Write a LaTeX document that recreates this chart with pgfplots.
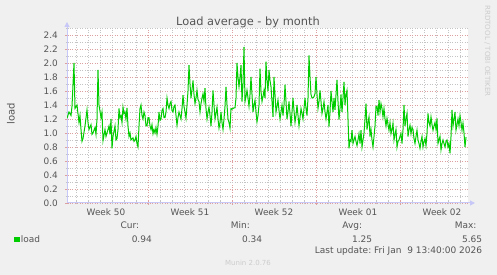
\documentclass[border=0pt]{standalone}
\usepackage{pgfplots}
\usepackage{pgfplotstable}
\pgfplotsset{compat=1.18}
\usepackage{fontspec}
\setmainfont{DejaVu Sans}
\usetikzlibrary{arrows.meta}
\definecolor{bg}{HTML}{F0F0F0}
\definecolor{txt}{HTML}{555555}
\definecolor{axc}{HTML}{C8C8F8}
\definecolor{mingrid}{HTML}{C4C4C4}
\definecolor{majgrid}{HTML}{DCA0A0}
\definecolor{loadc}{HTML}{00CC00}
\definecolor{light}{HTML}{CCCCCC}

\pgfplotstableread{
x y
0 1.21
2 1.30
4 1.25
5 1.38
7 2.00
8 1.35
10 1.40
12 1.15
13 1.25
14 1.05
15 0.88
16 0.92
18 1.10
20 1.33
21 1.15
22 1.05
24 1.12
25 0.98
26 1.00
28 1.08
29 0.98
30 1.20
31 1.90
32 1.40
34 1.22
35 1.30
36 0.89
38 1.05
39 0.95
40 1.00
42 1.10
43 0.98
44 1.20
45 0.78
46 0.95
48 1.10
49 0.90
50 0.92
51 1.05
52 1.35
53 1.22
54 1.25
55 1.15
56 1.37
57 1.28
58 1.30
59 1.20
60 1.36
61 1.10
62 0.95
63 1.00
64 0.90
66 0.93
67 0.88
68 0.90
69 0.95
70 0.85
71 0.80
72 1.10
73 1.35
74 1.40
75 1.25
76 1.20
77 1.30
78 1.25
79 1.10
80 1.10
81 1.22
82 1.22
83 1.10
84 1.05
85 1.12
86 0.99
87 1.05
88 1.00
89 1.08
90 0.98
91 1.10
92 1.30
93 1.18
94 1.20
95 1.32
96 1.35
97 1.22
98 1.22
99 1.30
100 1.50
101 1.40
102 1.35
103 1.42
104 1.45
105 1.32
106 1.30
107 1.38
108 1.40
109 1.25
110 1.11
111 1.22
112 1.30
113 1.25
114 1.20
115 1.35
116 1.54
117 1.38
118 1.30
119 1.21
120 1.40
121 1.60
122 1.97
123 1.70
124 1.50
125 1.62
126 1.75
127 1.55
128 1.42
129 1.50
130 1.61
131 1.48
132 1.45
133 1.30
134 1.42
135 1.50
136 1.56
137 1.45
138 1.64
139 1.35
140 1.20
141 1.30
142 1.37
143 1.25
144 1.10
145 1.30
146 1.61
147 1.40
148 1.20
149 1.28
150 1.37
151 1.20
152 1.07
153 1.15
154 1.30
155 1.15
156 1.05
157 1.20
158 1.38
159 1.66
160 1.40
161 1.20
162 1.15
163 1.07
164 1.35
165 1.34
166 1.35
167 1.36
168 1.36
169 1.50
170 2.00
171 1.80
172 1.66
173 1.80
174 1.97
175 1.45
176 1.70
177 2.23
178 1.45
179 1.52
180 1.61
181 1.50
182 1.38
183 1.55
184 1.80
185 1.55
186 1.30
187 1.40
188 1.47
189 1.30
190 1.16
191 1.25
192 1.40
193 1.92
194 1.60
195 1.45
196 1.52
197 1.61
198 1.50
199 2.02
200 1.75
201 1.60
202 1.90
203 1.75
204 1.66
205 1.45
206 1.23
207 1.80
208 1.55
209 1.30
210 1.38
211 1.47
212 1.32
213 1.20
214 1.30
215 1.40
216 1.25
217 1.40
218 1.69
219 1.45
220 1.20
221 1.30
222 1.45
223 1.28
224 1.10
225 1.30
226 1.50
227 1.32
228 1.15
229 1.25
230 1.40
231 1.25
232 1.10
233 1.22
234 1.35
235 1.28
236 1.20
237 1.35
238 1.50
239 1.35
240 1.25
241 1.50
242 2.11
243 1.80
244 1.55
245 1.50
246 1.50
247 1.52
248 1.56
249 1.80
250 1.55
251 1.35
252 1.45
253 1.61
254 1.45
255 1.28
256 1.35
257 1.45
258 1.30
259 1.20
260 1.30
261 1.40
262 1.09
263 1.30
264 1.60
265 1.45
266 1.30
267 1.50
268 1.33
269 1.55
270 1.76
271 1.45
272 1.19
273 1.35
274 1.55
275 1.30
276 1.50
277 1.73
278 1.40
279 1.55
280 1.61
281 1.20
282 0.78
283 0.90
284 0.88
285 1.04
286 0.85
287 0.90
288 0.95
289 0.88
290 0.82
291 0.90
292 0.99
293 0.85
294 1.04
295 0.80
296 0.90
297 1.00
298 1.20
299 1.42
300 1.05
301 1.15
302 1.23
303 0.95
304 1.05
305 0.90
306 0.80
307 0.95
308 1.10
309 1.38
310 1.38
311 1.25
312 1.47
313 1.30
314 1.42
315 1.35
316 1.23
317 1.35
318 1.20
319 1.10
320 1.21
321 1.12
322 1.04
323 1.15
324 0.99
325 1.05
326 1.14
327 0.90
328 0.98
329 1.05
330 0.80
331 0.88
332 0.90
333 0.95
334 0.99
335 0.85
336 1.05
337 1.40
338 1.10
339 1.20
340 1.28
341 0.95
342 1.05
343 1.11
344 0.99
345 1.08
346 1.05
347 0.92
348 0.85
349 0.95
350 1.04
351 0.90
352 0.85
353 0.78
354 0.88
355 0.95
356 0.80
357 0.88
358 0.92
359 0.82
360 1.00
361 1.28
362 1.15
363 1.10
364 1.23
365 1.12
366 1.04
367 1.10
368 1.15
369 1.05
370 1.21
371 0.85
372 0.90
373 0.95
374 0.76
375 0.85
376 0.90
377 0.85
378 0.80
379 0.88
380 0.90
381 0.80
382 0.85
383 0.71
384 0.95
385 1.33
386 1.10
387 1.20
388 1.30
389 1.04
390 1.12
391 1.20
392 1.10
393 1.25
394 1.15
395 1.04
396 1.14
397 1.00
398 0.80
399 0.94
}\loaddata

\begin{document}
\begin{tikzpicture}[x=1pt,y=1pt]
\fill[bg] (0,0) rectangle (497,275);
\useasboundingbox (0,0) rectangle (497,275);
\begin{axis}[
  at={(67pt,72pt)}, anchor=south west,
  scale only axis, width=401pt, height=175pt,
  xmin=0, xmax=401, ymin=0, ymax=2.5,
  axis background/.style={fill=white},
  axis x line=bottom, axis y line=left,
  axis line style={axc, line width=1pt},
  x axis line style={-{Triangle[length=5pt,width=5pt]}, shorten >=-7pt},
  y axis line style={-{Triangle[length=5pt,width=5pt]}, shorten >=-6pt},
  xtick={81,165,249,333}, xticklabels={},
  minor xtick={9,21,33,45,57,69,93,105,117,129,141,153,177,189,201,213,225,237,261,273,285,297,309,321,345,357,369,381,393},
  extra x ticks={39,123,207,291,375},
  extra x tick labels={Week 50,Week 51,Week 52,Week 01,Week 02},
  extra x tick style={grid=none, major tick length=0pt},
  ytick={0,0.2,0.4,0.6,0.8,1.0,1.2,1.4,1.6,1.8,2.0,2.2,2.4},
  minor ytick={0.1,0.3,0.5,0.7,0.9,1.1,1.3,1.5,1.7,1.9,2.1,2.3,2.5},
  grid=both,
  major grid style={majgrid, line width=0.7pt, dash pattern=on 0.9pt off 1.6pt},
  minor grid style={mingrid, line width=0.7pt, dash pattern=on 0.9pt off 1.6pt},
  tick align=center,
  major tick length=4pt, minor tick length=3pt,
  every major tick/.append style={majgrid, line width=0.8pt},
  every minor tick/.append style={mingrid, line width=0.8pt},
  tick label style={txt, font=\fontsize{8.9}{10}\selectfont, inner sep=0pt},
  xticklabel style={anchor=base, yshift=-13pt},
  yticklabel style={anchor=base east, xshift=-7pt, yshift=-3.2pt,
    /pgf/number format/.cd, fixed, fixed zerofill, precision=1, assume math mode=true},
]
\addplot[loadc, line width=1pt, no marks] table[x=x, y=y] {\loaddata};
\end{axis}
\node[txt, font=\fontsize{11.4}{13}\selectfont, anchor=base, inner sep=0pt] at (248,249.1) {Load average - by month};
\node[txt, font=\fontsize{10}{12}\selectfont, rotate=90, inner sep=0pt] at (11,161) {load};
\node[light, font=\fontsize{7.1}{8}\selectfont, rotate=-90, inner sep=0pt] at (487.5,224) {RRDTOOL / TOBI OETIKER};
\begin{scope}[every node/.style={txt, font=\fontsize{9}{10}\selectfont, inner sep=0pt}]
\node[anchor=base east] at (139.3,46.7) {Cur:};
\node[anchor=base east] at (250,46.7) {Min:};
\node[anchor=base east] at (362.3,46.7) {Avg:};
\node[anchor=base east] at (476.7,46.7) {Max:};
\node[anchor=base west] at (20.7,32.7) {load};
\node[anchor=base east] at (152,32.7) {0.94};
\node[anchor=base east] at (262.3,32.7) {0.34};
\node[anchor=base east] at (372.3,32.7) {1.25};
\node[anchor=base east] at (482.3,32.7) {5.65};
\node[anchor=base east] at (482.3,21) {Last update:~Fri Jan~~9 13:40:00 2026};
\end{scope}
\fill[loadc] (14,32.7) rectangle (20,37.7);
\node[light, font=\fontsize{7}{8}\selectfont, anchor=base, inner sep=0pt] at (248,9.8) {Munin 2.0.76};
\end{tikzpicture}
\end{document}
